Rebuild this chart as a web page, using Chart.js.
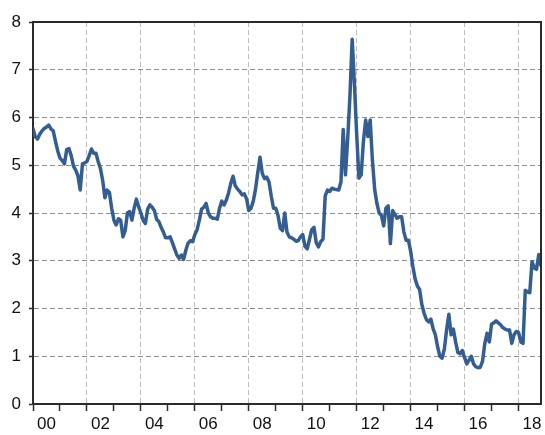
<!DOCTYPE html>
<html>
<head>
<meta charset="utf-8">
<script src="https://cdn.jsdelivr.net/npm/chart.js@4/dist/chart.umd.min.js"></script>
<style>
  html, body { margin: 0; padding: 0; background: #ffffff; }
  #c { display: block; }
</style>
</head>
<body>
<canvas id="c" width="545" height="435"></canvas>
<script>
// Monthly series, Jan 2000 onward
const values2000 = [5.77, 5.60, 5.55, 5.65, 5.72, 5.77, 5.80, 5.84, 5.76, 5.72, 5.50, 5.30];
const values2001 = [5.15, 5.10, 5.03, 5.33, 5.35, 5.20, 4.98, 4.90, 4.78, 4.48, 5.03, 5.05];
const values2002 = [5.08, 5.20, 5.34, 5.25, 5.25, 5.08, 4.93, 4.68, 4.32, 4.48, 4.43, 4.10];
const values2003 = [3.85, 3.75, 3.88, 3.85, 3.50, 3.63, 4.00, 4.03, 3.85, 4.10, 4.29, 4.13];
const values2004 = [4.00, 3.85, 3.78, 4.08, 4.17, 4.12, 4.05, 3.87, 3.82, 3.70, 3.60, 3.48];
const values2005 = [3.48, 3.50, 3.38, 3.25, 3.12, 3.05, 3.12, 3.03, 3.22, 3.37, 3.42, 3.40];
const values2006 = [3.55, 3.65, 3.85, 4.08, 4.12, 4.20, 4.00, 3.92, 3.89, 3.89, 3.87, 4.10];
const values2007 = [4.25, 4.17, 4.27, 4.42, 4.62, 4.77, 4.57, 4.50, 4.45, 4.38, 4.40, 4.30];
const values2008 = [4.05, 4.10, 4.25, 4.50, 4.85, 5.17, 4.83, 4.72, 4.75, 4.65, 4.35, 4.10];
const values2009 = [4.10, 3.95, 3.68, 3.63, 4.00, 3.60, 3.50, 3.48, 3.45, 3.41, 3.42, 3.50];
const values2010 = [3.55, 3.30, 3.25, 3.45, 3.65, 3.70, 3.38, 3.29, 3.40, 3.45, 4.36, 4.48];
const values2011 = [4.45, 4.52, 4.50, 4.49, 4.48, 4.65, 5.75, 4.80, 5.55, 6.45, 7.64, 6.70];
const values2012 = [5.65, 4.73, 4.80, 5.50, 5.95, 5.60, 5.95, 5.10, 4.50, 4.20, 4.00, 3.95];
const values2013 = [3.73, 4.10, 4.15, 3.36, 4.05, 3.97, 3.89, 3.92, 3.92, 3.60, 3.43, 3.43];
const values2014 = [3.20, 2.88, 2.62, 2.47, 2.40, 2.08, 1.90, 1.77, 1.72, 1.78, 1.58, 1.45];
const values2015 = [1.20, 1.00, 0.96, 1.15, 1.55, 1.88, 1.45, 1.57, 1.30, 1.08, 1.05, 1.12];
const values2016 = [0.97, 0.84, 0.92, 1.00, 0.84, 0.78, 0.76, 0.77, 0.90, 1.27, 1.48, 1.30];
const values2017 = [1.67, 1.70, 1.74, 1.70, 1.66, 1.60, 1.57, 1.55, 1.55, 1.27, 1.45, 1.52];
const values2018 = [1.50, 1.30, 1.27, 2.38, 2.35, 2.33, 2.98, 2.85, 2.82, 3.13, 2.90];

const values = [].concat(values2000, values2001, values2002, values2003, values2004,
  values2005, values2006, values2007, values2008, values2009, values2010, values2011,
  values2012, values2013, values2014, values2015, values2016, values2017, values2018);

// Year-start tick positions (months since Jan 2000) and their labels
const xTickMonths = [0, 12, 24, 36, 48, 60, 72, 84, 96, 108, 120, 132, 144, 156, 168, 180, 192, 204, 216];
const xTickLabels = ['00', '', '02', '', '04', '', '06', '', '08', '', '10', '', '12', '', '14', '', '16', '', '18'];
const yTicks = [0, 1, 2, 3, 4, 5, 6, 7, 8];

const points = values.map((v, i) => ({ x: i, y: v }));

const FONT = { family: "'Liberation Sans', Arial, sans-serif", size: 17 };
const AXIS = '#2b2b2b';

const framePlugin = {
  id: 'frame',
  afterDatasetsDraw(chart) {
    const { ctx, chartArea: a } = chart;
    ctx.save();
    ctx.strokeStyle = AXIS;
    ctx.lineWidth = 2;
    ctx.beginPath();
    ctx.moveTo(a.left, a.top);
    ctx.lineTo(a.right, a.top);
    ctx.lineTo(a.right, a.bottom);
    ctx.stroke();
    ctx.restore();
  }
};

new Chart(document.getElementById('c'), {
  type: 'line',
  data: {
    datasets: [{
      data: points,
      borderColor: '#345e92',
      borderWidth: 3.5,
      pointRadius: 0,
      tension: 0,
      fill: false,
      borderJoinStyle: 'round',
      borderCapStyle: 'round'
    }]
  },
  options: {
    responsive: false,
    devicePixelRatio: 1,
    animation: false,
    layout: { padding: { top: 22, right: 4, left: 0, bottom: 0 } },
    plugins: { legend: { display: false }, tooltip: { enabled: false } },
    scales: {
      x: {
        type: 'linear',
        min: 0,
        max: values.length - 1,
        afterBuildTicks: s => { s.ticks = xTickMonths.map(v => ({ value: v })); },
        afterFit: s => { s.height = 31; },
        ticks: {
          autoSkip: false,
          maxRotation: 0,
          padding: 3,
          labelOffset: 13.45,
          font: FONT,
          color: '#111',
          callback: (v, i) => xTickLabels[i]
        },
        grid: {
          color: ctx => (ctx.index > 0 && ctx.index % 2 === 0) ? '#bcbcbc' : 'rgba(0,0,0,0)',
          lineWidth: 1,
          drawTicks: true,
          tickLength: 7,
          tickColor: AXIS,
          tickWidth: 1.5
        },
        border: { display: true, color: AXIS, width: 2, dash: [5, 3] }
      },
      y: {
        min: 0,
        max: 8,
        afterBuildTicks: s => { s.ticks = yTicks.map(v => ({ value: v })); },
        afterFit: s => { s.width = 33; },
        ticks: { padding: 8, font: FONT, color: '#111' },
        grid: {
          color: ctx => (ctx.tick && ctx.tick.value > 0 && ctx.tick.value < 8) ? '#8c8c8c' : 'rgba(0,0,0,0)',
          lineWidth: 1,
          drawTicks: true,
          tickLength: 4,
          tickColor: AXIS,
          tickWidth: 1.5
        },
        border: { display: true, color: AXIS, width: 2, dash: [5, 3] }
      }
    }
  },
  plugins: [framePlugin]
});
</script>
</body>
</html>
